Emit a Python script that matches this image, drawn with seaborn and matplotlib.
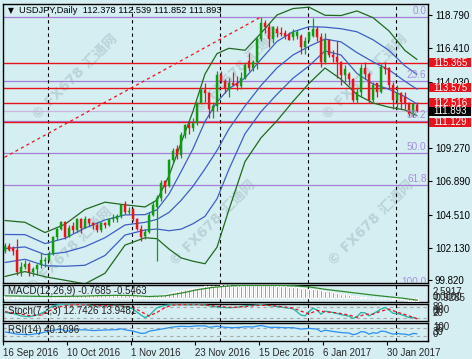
import numpy as np
import matplotlib
matplotlib.use("Agg")
import matplotlib.pyplot as plt
import matplotlib.transforms as mtransforms
from matplotlib.patches import Rectangle
import seaborn as sns

# ---------------- data ----------------
opens = [
    101.95, 102.30, 102.10, 102.00, 100.40, 100.80, 101.00, 100.40, 100.60, 100.90,
    101.20, 101.30, 101.70, 102.90, 103.50, 104.00, 102.90, 103.70, 103.40, 104.20,
    103.60, 104.20, 103.90, 103.80, 103.40, 103.90, 103.80, 104.20, 104.20, 104.40,
    105.30, 104.70, 104.90, 104.20, 103.50, 103.00, 103.30, 104.50, 105.10, 105.70,
    106.90, 106.60, 108.40, 109.20, 108.80, 110.20, 110.90, 110.70, 111.10, 112.50,
    113.40, 113.20, 111.90, 112.30, 114.50, 114.10, 113.40, 113.90, 113.90, 113.70,
    114.30, 115.50, 115.00, 115.40, 117.10, 118.20, 117.90, 117.10, 117.80, 117.50,
    117.50, 117.40, 117.20, 117.30, 117.30, 116.50, 117.00, 117.30, 117.80, 117.20,
    115.40, 117.00, 115.90, 115.80, 115.40, 114.50, 114.60, 114.20, 112.70, 113.30,
    115.00, 114.60, 112.70, 113.90, 113.30, 115.10, 115.00, 113.80, 112.70, 113.20,
    112.90, 112.50, 111.70, 112.378]
highs = [
    102.50, 102.50, 102.30, 102.80, 101.10, 101.30, 101.10, 100.80, 101.00, 101.80,
    101.50, 101.90, 103.00, 103.60, 104.10, 104.10, 103.80, 104.00, 104.30, 104.30,
    104.40, 104.30, 104.00, 104.00, 104.00, 104.00, 104.30, 104.60, 104.60, 105.30,
    105.50, 105.10, 105.00, 104.30, 103.80, 103.50, 104.70, 105.50, 105.90, 107.00,
    107.00, 108.50, 109.30, 109.50, 110.40, 111.00, 111.20, 111.40, 112.60, 113.60,
    113.90, 113.30, 112.60, 114.80, 114.80, 114.20, 114.30, 114.70, 114.40, 114.70,
    115.40, 116.10, 115.60, 117.20, 118.66, 118.40, 118.20, 118.00, 118.00, 117.90,
    117.70, 117.60, 117.80, 117.70, 117.40, 117.20, 117.60, 118.60, 118.00, 117.50,
    117.50, 117.10, 116.30, 116.90, 115.50, 115.20, 114.70, 114.30, 113.60, 115.30,
    115.40, 114.70, 114.00, 113.90, 115.30, 115.40, 115.10, 114.00, 113.80, 113.30,
    113.30, 112.60, 112.50, 112.539]
lows = [
    101.80, 101.90, 101.60, 100.20, 100.10, 100.60, 100.10, 100.10, 100.20, 100.70,
    100.80, 101.20, 101.60, 102.70, 103.40, 102.80, 102.90, 103.20, 103.30, 103.20,
    103.60, 103.70, 103.50, 103.30, 103.30, 103.60, 103.70, 104.00, 104.00, 104.30,
    104.60, 104.60, 104.10, 103.40, 102.60, 102.80, 103.20, 104.40, 101.20, 105.50,
    106.10, 106.50, 108.20, 108.50, 108.60, 110.00, 110.30, 110.50, 110.90, 112.40,
    112.60, 111.40, 111.40, 111.90, 113.90, 113.20, 112.90, 113.70, 113.40, 113.50,
    114.20, 114.80, 114.80, 114.90, 116.90, 117.50, 116.50, 116.80, 117.20, 117.30,
    117.10, 117.00, 117.00, 117.10, 116.00, 116.00, 116.90, 117.20, 116.90, 115.10,
    115.30, 115.80, 115.40, 114.30, 113.80, 114.00, 113.80, 112.60, 112.50, 112.90,
    114.20, 112.50, 112.60, 112.90, 113.20, 114.60, 113.60, 112.10, 112.10, 112.10,
    112.10, 111.60, 111.50, 111.852]
closes = [
    102.30, 102.00, 101.90, 100.40, 100.80, 101.00, 100.40, 100.60, 100.90, 101.30,
    101.30, 101.70, 102.90, 103.50, 104.00, 102.90, 103.60, 103.40, 104.20, 103.60,
    104.20, 103.90, 103.80, 103.40, 103.90, 103.80, 104.20, 104.30, 104.40, 105.20,
    104.70, 104.80, 104.20, 103.50, 102.90, 103.30, 104.50, 105.20, 105.70, 106.80,
    106.50, 108.40, 109.10, 108.80, 110.20, 110.90, 110.70, 111.10, 112.50, 113.40,
    113.20, 112.10, 112.30, 114.50, 114.10, 113.60, 113.90, 113.80, 113.70, 114.30,
    115.20, 115.00, 115.40, 117.10, 118.20, 117.90, 117.10, 117.90, 117.50, 117.40,
    117.30, 117.00, 117.60, 117.60, 116.50, 116.90, 117.60, 117.80, 117.20, 115.40,
    117.00, 115.90, 115.80, 115.40, 114.50, 114.90, 114.20, 112.70, 113.30, 115.00,
    114.60, 112.70, 113.80, 113.30, 115.10, 114.90, 113.80, 112.70, 113.20, 112.60,
    112.50, 111.70, 112.40, 111.893]

# Bollinger band lines read at sample bars
band_bars = [0, 5, 10, 15, 20, 25, 30, 35, 38, 41, 44, 47, 50, 53, 56, 60, 64, 68, 72, 76, 80, 84, 88, 92, 96, 100, 103]
bb_up2 = [104.10, 103.97, 103.24, 103.83, 104.89, 105.41, 105.22, 105.07, 105.56, 107.30, 109.63, 111.91, 114.57, 116.03,
          116.41, 116.27, 117.49, 118.79, 119.25, 119.35, 118.77, 118.75, 119.08, 118.60, 117.65, 116.25, 115.61]
bb_up1 = [103.10, 103.09, 102.45, 102.83, 103.56, 104.14, 104.50, 104.52, 104.87, 105.99, 107.58, 109.23, 111.18, 112.57,
          113.53, 114.28, 115.62, 116.90, 117.59, 117.95, 117.92, 117.81, 117.59, 117.02, 116.26, 115.15, 114.55]
bb_mid = [102.10, 102.21, 101.66, 101.83, 102.23, 102.87, 103.78, 103.97, 104.18, 104.68, 105.53, 106.55, 107.79, 109.11,
          110.65, 112.29, 113.75, 115.01, 115.93, 116.55, 117.07, 116.87, 116.10, 115.44, 114.87, 114.05, 113.49]
bb_lo1 = [101.10, 101.33, 100.87, 100.83, 100.90, 101.60, 103.06, 103.42, 103.49, 103.37, 103.48, 103.87, 104.40, 105.65,
          107.77, 110.30, 111.88, 113.12, 114.27, 115.15, 116.22, 115.93, 114.61, 113.86, 113.48, 112.95, 112.43]
bb_lo2 = [100.10, 100.45, 100.08, 99.83, 99.57, 100.33, 102.34, 102.87, 102.80, 102.06, 101.43, 101.19, 101.01, 102.19,
          104.89, 108.31, 110.01, 111.23, 112.61, 113.90, 115.00, 114.20, 113.10, 112.50, 112.20, 112.00, 111.60]

# horizontal levels
red_levels = [115.365, 113.575, 112.516, 111.129]
red_labels = ["115.365", "113.575", "112.516", "111.129"]
bid_price = 111.893
bid_label = "111.893"
fib_levels = [118.65, 114.07, 111.24, 108.95, 106.66, 99.25]
fib_labels = ["0.0", "23.6", "38.2", "50.0", "61.8", "100.0"]
fib_anchor_bars = [-60, 64]
fib_anchor_prices = [99.25, 118.65]

price_ticks = [118.79, 116.41, 114.03, 109.27, 106.89, 104.51, 102.13, 99.82]
price_tick_labels = ["118.790", "116.410", "114.030", "109.270", "106.890", "104.510", "102.130", "99.820"]

title_text = "USDJPY,Daily  112.378 112.539 111.852 111.893"

date_bars = [0, 16, 32, 48, 64, 80, 96]
date_labels = ["16 Sep 2016", "10 Oct 2016", "1 Nov 2016", "23 Nov 2016", "15 Dec 2016", "6 Jan 2017", "30 Jan 2017"]
month_start_bars = [11, 32, 54, 76, 98]

# MACD
macd_main = [
    0.30, 0.25, 0.20, 0.05, 0.00, -0.05, -0.10, -0.12, -0.10, -0.08,
    -0.05, 0.00, 0.10, 0.20, 0.30, 0.30, 0.35, 0.38, 0.42, 0.45,
    0.50, 0.52, 0.53, 0.50, 0.50, 0.49, 0.50, 0.52, 0.54, 0.60,
    0.60, 0.60, 0.55, 0.45, 0.30, 0.22, 0.25, 0.33, 0.42, 0.60,
    0.72, 0.95, 1.18, 1.32, 1.50, 1.68, 1.78, 1.88, 2.05, 2.20,
    2.30, 2.30, 2.30, 2.45, 2.50, 2.50, 2.50, 2.48, 2.45, 2.45,
    2.50, 2.52, 2.55, 2.59, 2.59, 2.59, 2.55, 2.52, 2.48, 2.42,
    2.35, 2.28, 2.22, 2.15, 2.00, 1.90, 1.85, 1.80, 1.72, 1.50,
    1.42, 1.28, 1.15, 1.00, 0.82, 0.70, 0.55, 0.35, 0.22, 0.20,
    0.15, -0.02, -0.10, -0.20, -0.12, -0.05, -0.12, -0.25, -0.30, -0.40,
    -0.48, -0.62, -0.65, -0.7685]
macd_sig_bars = [0, 4, 8, 12, 16, 20, 24, 28, 32, 36, 40, 44, 48, 52, 56, 60, 64, 68, 72, 76, 80, 84, 88, 92, 96, 100, 103]
macd_sig = [0.35, 0.30, 0.25, 0.20, 0.25, 0.30, 0.40, 0.45, 0.40, 0.20, 0.35, 0.90, 1.60, 2.10, 2.40, 2.50, 2.50, 2.50,
            2.45, 2.20, 1.70, 1.30, 0.90, 0.50, 0.15, -0.20, -0.5463]
macd_max, macd_min = 2.5917, -0.9285

# Stochastic
sto_k_bars = [0, 2, 4, 6, 8, 10, 11, 12, 14, 16, 18, 20, 22, 24, 26, 28, 30, 32, 34, 35, 36, 37, 38, 40, 42, 44, 46, 48,
              50, 52, 54, 56, 58, 60, 62, 64, 66, 68, 70, 72, 74, 75, 76, 77, 78, 79, 80, 82, 84, 86, 87, 88, 89, 90,
              91, 92, 94, 95, 96, 97, 98, 99, 100, 101, 102, 103]
sto_k = [50, 45, 30, 25, 35, 55, 75, 90, 98, 97, 98, 96, 90, 88, 90, 92, 85, 70, 35, 20, 30, 55, 78, 92, 98, 98, 96, 98,
         95, 85, 80, 78, 80, 90, 92, 97, 90, 86, 78, 72, 35, 30, 55, 75, 65, 40, 58, 50, 38, 28, 15, 25, 50, 48,
         30, 42, 70, 80, 65, 45, 45, 38, 30, 20, 22, 12.74]
sto_d_bars = [0, 3, 6, 9, 12, 15, 18, 21, 24, 27, 30, 32, 34, 36, 38, 40, 42, 45, 48, 51, 54, 57, 60, 63, 66, 69, 72,
              74, 76, 78, 80, 83, 86, 88, 90, 92, 94, 96, 98, 100, 102, 103]
sto_d = [55, 45, 32, 35, 70, 92, 97, 94, 90, 90, 88, 80, 55, 30, 50, 80, 94, 97, 97, 92, 84, 80, 85, 92, 92, 85, 76,
         58, 42, 62, 54, 48, 35, 22, 40, 40, 58, 70, 52, 38, 22, 13.95]

# RSI
rsi_bars = [0, 3, 6, 9, 12, 14, 15, 18, 20, 22, 24, 26, 28, 29, 30, 32, 34, 35, 36, 38, 40, 42, 44, 46, 48, 50, 51, 53,
            55, 57, 59, 60, 62, 63, 64, 66, 68, 70, 72, 74, 76, 78, 79, 80, 82, 84, 86, 87, 88, 89, 90, 91, 92, 93,
            94, 95, 96, 97, 98, 99, 100, 101, 102, 103]
rsi_vals = [50, 38, 35, 45, 60, 66, 55, 62, 62, 58, 60, 62, 63, 68, 62, 55, 42, 44, 55, 62, 70, 78, 82, 80, 84, 84, 76, 82,
            76, 74, 76, 79, 78, 83, 86, 76, 76, 74, 74, 66, 70, 66, 52, 60, 53, 47, 44, 35, 40, 52, 50, 38, 46, 43,
            55, 53, 45, 38, 42, 39, 38, 33, 42, 40.11]

# ---------------- styling ----------------
sns.set_style("white")
plt.rcParams['font.family'] = ['Liberation Sans', 'DejaVu Sans']

BG = '#d5eef2'
GREEN_C = '#139a13'
RED_C = '#e8141c'
BB_GREEN = '#1f6a1f'
BB_BLUE = '#3d5fc4'
FIB_C = '#a57fd8'
FIB_TXT = '#a98ddb'
W, H = 472, 359

fig = plt.figure(figsize=(W / 100, H / 100), dpi=100)
fig.patch.set_facecolor(BG)

XL = (-0.5, 105.75)


def add_panel(top, bottom, left=3, right=428):
    a = fig.add_axes([left / W, 1 - bottom / H, (right - left) / W, (bottom - top) / H])
    a.set_facecolor(BG)
    for s in a.spines.values():
        s.set_color('black')
        s.set_linewidth(1.0)
    a.set_xticks([])
    a.set_yticks([])
    return a


def separators(a):
    for b in month_start_bars:
        a.axvline(b - 0.25, color='black', lw=0.8, linestyle=(0, (3, 3)), zorder=2)


# ---------------- main price panel ----------------
ax = add_panel(4, 283)
bars = np.arange(len(closes))
o = np.array(opens)
c = np.array(closes)
up = c >= o
cols = np.where(up, GREEN_C, RED_C)

# horizontal objects
for p in fib_levels:
    ax.axhline(p, color=FIB_C, lw=0.9, zorder=2)
ax.axhline(bid_price, color='#cdb6de', lw=0.9, zorder=2)
for p in red_levels:
    ax.axhline(p, color=RED_C, lw=1.0, zorder=2.2)
sns.lineplot(x=fib_anchor_bars, y=fib_anchor_prices, ax=ax, color=RED_C, lw=0.9,
             linestyle=(0, (2.5, 2.5)), zorder=2.2, legend=False)
separators(ax)

# watermarks
wm_pos = [(0.169, 0.738), (0.553, 0.763), (0.852, 0.738), (0.158, 0.12), (0.494, 0.215), (0.864, 0.215)]
for (wx, wy) in wm_pos:
    ax.text(wx, wy, "© FX678 汇通网", transform=ax.transAxes, rotation=45, fontsize=10, fontweight='bold',
            color='#bad3d8', ha='center', va='center', family=['DejaVu Sans', 'Noto Sans CJK SC'], zorder=1)

# bands
for arr, colr in [(bb_up2, BB_GREEN), (bb_lo2, BB_GREEN), (bb_up1, BB_BLUE), (bb_lo1, BB_BLUE), (bb_mid, BB_BLUE)]:
    sns.lineplot(x=band_bars, y=arr, ax=ax, color=colr, lw=0.9, zorder=3, legend=False)

# candles
ax.vlines(bars, lows, highs, colors=cols, linewidth=0.9, zorder=4)
body_lo = np.minimum(o, c)
body_h = np.maximum(np.abs(c - o), 0.05)
ax.bar(bars, body_h, bottom=body_lo, width=0.72, color=cols, edgecolor=cols, linewidth=0.3, zorder=5)

ax.set_xlim(*XL)
ax.set_ylim(99.633, 119.576)
ax.set_xlabel('')
ax.set_ylabel('')

# right price scale
ax.set_yticks(price_ticks)
ax.set_yticklabels(price_tick_labels)
ax.tick_params(axis='y', left=False, right=True, labelleft=False, labelright=True, length=3, width=0.8,
               pad=2, labelsize=7, colors='black', direction='out')

trans = mtransforms.blended_transform_factory(ax.transAxes, ax.transData)
box_h = 9 / 13.99
for p, lab, colr in list(zip(red_levels, red_labels, [RED_C] * 4)) + [(bid_price, bid_label, 'black')]:
    ax.add_patch(Rectangle((426 / 425, p - box_h / 2), 42 / 425, box_h, transform=trans, facecolor=colr,
                           edgecolor='none', clip_on=False, zorder=20))
    ax.text(430 / 425, p, lab, transform=trans, color='white', fontsize=7, va='center', ha='left',
            clip_on=False, zorder=21)

# fib labels
for p, lab in zip(fib_levels, fib_labels):
    ax.text(423.5 / 425, p + 0.07, lab, transform=trans, color=FIB_TXT, fontsize=7.2, ha='right', va='bottom',
            clip_on=True, zorder=6)

# title
ax.text(0.0188, 0.975, "▼", transform=ax.transAxes, fontsize=5.5, family='DejaVu Sans', ha='center',
        va='center', color='black', zorder=8)
ax.text(0.0376, 0.975, title_text, transform=ax.transAxes, fontsize=6.7, ha='left', va='center',
        color='black', zorder=8)

# ---------------- MACD ----------------
axm = add_panel(285, 302)
axm.bar(bars, macd_main, width=0.28, color='#9b30d0', zorder=3)
sns.lineplot(x=macd_sig_bars, y=macd_sig, ax=axm, color='#2e8b2e', lw=0.9, zorder=4, legend=False)
separators(axm)
axm.set_xlim(*XL)
axm.set_ylim(macd_min, macd_max)
axm.set_xlabel(''); axm.set_ylabel('')
axm.set_xticks([]); axm.set_yticks([])
axm.text(5 / 425, 0.62, "MACD(12,26,9) -0.7685 -0.5463", transform=axm.transAxes, fontsize=7, va='center',
         ha='left', color='#202020', zorder=6)
for lab, fy in [("2.5917", 0.56), ("0.0000", 0.32), ("-0.9285", 0.26)]:
    axm.text(430 / 425, fy, lab, transform=axm.transAxes, fontsize=7, va='center', ha='left', clip_on=False)

# ---------------- Stochastic ----------------
axs = add_panel(304, 321)
for lv in [20, 80]:
    axs.axhline(lv, color='#a8a8a8', lw=0.8, linestyle=(0, (3, 3)), zorder=2)
separators(axs)
sns.lineplot(x=sto_k_bars, y=sto_k, ax=axs, color='#22b2a5', lw=0.9, zorder=4, legend=False)
sns.lineplot(x=sto_d_bars, y=sto_d, ax=axs, color=RED_C, lw=0.9, linestyle=(0, (2.5, 2)), zorder=4, legend=False)
axs.set_xlim(*XL)
axs.set_ylim(0, 100)
axs.set_xlabel(''); axs.set_ylabel('')
axs.set_xticks([]); axs.set_yticks([])
axs.text(5 / 425, 0.58, "Stoch(7,3,3) 12.7426 13.9481", transform=axs.transAxes, fontsize=7, va='center',
         ha='left', color='#202020', zorder=6)
for lab, fy in [("80", 0.80), ("100", 0.62), ("20", 0.45), ("0", 0.55)]:
    axs.text(430 / 425, fy, lab, transform=axs.transAxes, fontsize=7, va='center', ha='left', clip_on=False)

# ---------------- RSI ----------------
axr = add_panel(323, 341)
for lv in [30, 70]:
    axr.axhline(lv, color='#a8a8a8', lw=0.8, linestyle=(0, (3, 3)), zorder=2)
separators(axr)
sns.lineplot(x=rsi_bars, y=rsi_vals, ax=axr, color='#2a8ef0', lw=0.9, zorder=4, legend=False)
axr.set_xlim(*XL)
axr.set_ylim(0, 100)
axr.set_xlabel(''); axr.set_ylabel('')
axr.set_yticks([])
axr.text(5 / 425, 0.62, "RSI(14) 40.1096", transform=axr.transAxes, fontsize=7, va='center',
         ha='left', color='#202020', zorder=6)
for lab, fy in [("100", 0.78), ("70", 0.66), ("30", 0.48), ("0", 0.40)]:
    axr.text(430 / 425, fy, lab, transform=axr.transAxes, fontsize=7, va='center', ha='left', clip_on=False)

# x labels (dates)
axr.set_xticks([b - 0.6 for b in date_bars])
axr.set_xticklabels([])
axr.tick_params(axis='x', bottom=True, length=3, width=0.8, direction='out', colors='black')
dtrans = mtransforms.blended_transform_factory(axr.transData, axr.transAxes)
for b, lab in zip(date_bars, date_labels):
    axr.text(b - 0.6, -0.67, lab, transform=dtrans, fontsize=7, ha='left', va='center', clip_on=False)

fig.savefig("out.png", dpi=100, facecolor=BG)
